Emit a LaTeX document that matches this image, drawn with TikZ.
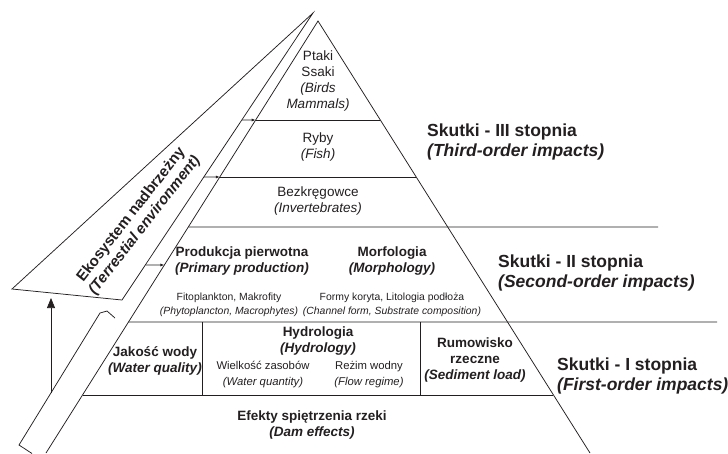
\documentclass[tikz,border=0pt]{standalone}
\usepackage{fontspec}
\setmainfont{Liberation Sans}
\usetikzlibrary{arrows.meta,calc}
\definecolor{ink}{HTML}{231F20}
\begin{document}
\begin{tikzpicture}[x=1pt,y=-1pt,
  edge/.style={draw=ink, line width=0.75pt},
  lbl/.style={text=ink, align=center, inner sep=0pt, font=\fontsize{13.5}{16}\selectfont},
  blbl/.style={text=ink, align=center, inner sep=0pt, font=\fontsize{13.5}{16}\selectfont\bfseries},
  rlbl/.style={text=ink, align=center, inner sep=0pt, font=\fontsize{15}{17}\selectfont\bfseries},
  slbl/.style={text=ink, align=center, inner sep=0pt, font=\fontsize{10.4}{14}\selectfont},
  mlbl/.style={text=ink, align=center, inner sep=0pt, font=\fontsize{11.3}{16}\selectfont},
  impact/.style={text=ink, align=left, anchor=west, inner sep=0pt, font=\fontsize{17.5}{19.5}\selectfont\bfseries},
  tiparrow/.style={-{Latex[length=4pt,width=3pt]}},
  bigarrow/.style={-{Triangle[length=10pt,width=8pt]}}]
\useasboundingbox (0,0) rectangle (728,453);
% main pyramid
\coordinate (A) at (318,21);
\coordinate (BL) at (46,453);
\coordinate (BR) at (590,453);
\draw[edge] (BL) -- (A) -- (BR);
% tilted terrestrial shape
\coordinate (T) at (313,13);
\coordinate (TL) at (12,289);
\coordinate (TR) at (122,300);
\draw[edge] (TR) -- (T) -- (TL) -- cycle;
% level lines
\coordinate (L1) at ($(A)!0.2292!(BL)$);
\coordinate (R1) at ($(A)!0.2292!(BR)$);
\coordinate (E1) at ($(T)!0.3728!(TR)$);
\coordinate (L2) at ($(A)!0.3611!(BL)$);
\coordinate (R2) at ($(A)!0.3611!(BR)$);
\coordinate (E2) at ($(T)!0.5714!(TR)$);
\coordinate (L3) at ($(A)!0.4769!(BL)$);
\coordinate (X3) at (658,227);
\coordinate (L4) at ($(A)!0.5648!(BL)$);
\coordinate (E4) at ($(T)!0.8780!(TR)$);
\coordinate (L5) at ($(A)!0.6968!(BL)$);
\coordinate (X5) at (717,322);
\coordinate (L6) at ($(A)!0.8657!(BL)$);
\coordinate (R6) at ($(A)!0.8657!(BR)$);
\draw[edge] (L1) -- (R1);
\draw[edge,tiparrow] (E1) -- (L1);
\draw[edge] (L2) -- (R2);
\draw[edge,tiparrow] (E2) -- (L2);
\draw[edge] (L3) -- (X3);
\draw[edge,tiparrow] (E4) -- (L4);
\draw[edge] (L5) -- (X5);
\draw[edge] (L6) -- (R6);
% vertical separators
\coordinate (V1t) at (202,322);
\coordinate (V1b) at (202,395);
\coordinate (V2t) at (420,322);
\coordinate (V2b) at (420,395);
\draw[edge] (V1t) -- (V1b);
\draw[edge] (V2t) -- (V2b);
% lower strip
\coordinate (S1) at (115,318);
\coordinate (S2) at (107,311);
\coordinate (S3) at (100,313);
\coordinate (S4) at (19,445);
\coordinate (S5) at (32,453.5);
\draw[edge] (S1) -- (S2) -- (S3) -- (S4) -- (S5);
% upward arrow
\coordinate (U0) at (51,393);
\coordinate (U1) at (51,298);
\draw[edge,bigarrow,fill=ink] (U0) -- (U1);
% texts
\node[lbl] (ptaki) at (318,81) {Ptaki\\Ssaki\\\textit{(Birds}\\\textit{Mammals)}};
\node[lbl] (ryby) at (318,147) {Ryby\\\textit{(Fish)}};
\node[lbl] (bezk) at (318,201) {Bezkręgowce\\\textit{(Invertebrates)}};
\node[rlbl, rotate=52] (eko) at (138,220) {Ekosystem nadbrzeżny\\\textit{(Terrestial environment)}};
\node[blbl] (prod) at (242,261) {Produkcja pierwotna\\\textit{(Primary production)}};
\node[blbl] (morf) at (392,261) {Morfologia\\\textit{(Morphology)}};
\node[slbl] (fito) at (229,305) {Fitoplankton, Makrofity\\\textit{(Phytoplancton, Macrophytes)}};
\node[slbl] (formy) at (392,305) {Formy koryta, Litologia podłoża\\\textit{(Channel form, Substrate composition)}};
\node[blbl] (jakosc) at (155,361) {Jakość wody\\\textit{(Water quality)}};
\node[blbl] (hydro) at (318,341) {Hydrologia\\\textit{(Hydrology)}};
\node[mlbl] (wielk) at (263,375) {Wielkość zasobów\\\textit{(Water quantity)}};
\node[mlbl] (rezim) at (369,375) {Reżim wodny\\\textit{(Flow regime)}};
\node[blbl] (rumow) at (475,360) {Rumowisko\\rzeczne\\\textit{(Sediment load)}};
\node[blbl] (efekty) at (312,425) {Efekty spiętrzenia rzeki\\\textit{(Dam effects)}};
\node[impact] (sk3) at (427,142) {Skutki - III stopnia\\\textit{(Third-order impacts)}};
\node[impact] (sk2) at (498,273) {Skutki - II stopnia\\\textit{(Second-order impacts)}};
\node[impact] (sk1) at (557,376) {Skutki - I stopnia\\\textit{(First-order impacts)}};
\end{tikzpicture}
\end{document}
